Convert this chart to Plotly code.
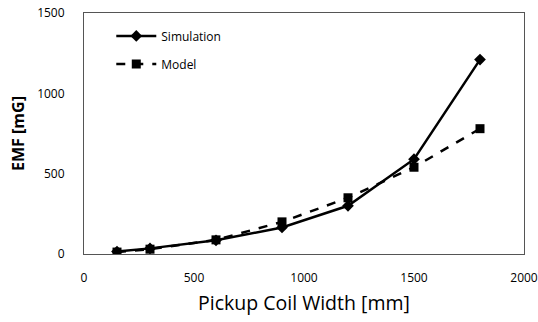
import plotly.graph_objects as go

width_mm = [150, 300, 600, 900, 1200, 1500, 1800]
simulation = [15, 35, 85, 165, 300, 590, 1210]
model = [12, 30, 88, 200, 350, 540, 780]

fig = go.Figure()
fig.add_trace(go.Scatter(x=width_mm, y=simulation, name="Simulation", mode="lines+markers",
                         legendgroup="a",
                         line=dict(color="black", width=2.5),
                         marker=dict(symbol="diamond", size=9, color="black")))
fig.add_trace(go.Scatter(x=width_mm, y=model, name="Model", mode="lines+markers",
                         legendgroup="b",
                         line=dict(color="black", width=2.5, dash="dash"),
                         marker=dict(symbol="square", size=9, color="black")))

fig.update_layout(
    width=538, height=322,
    margin=dict(l=84, r=14, t=13, b=68),
    paper_bgcolor="white", plot_bgcolor="white",
    font=dict(family="Open Sans, Liberation Sans, sans-serif", color="black"),
    showlegend=True,
    legend=dict(x=0.062, y=0.965, xanchor="left", yanchor="top", bgcolor="rgba(0,0,0,0)",
                font=dict(size=12), itemwidth=40, tracegroupgap=9),
    xaxis=dict(range=[0, 2000], tickvals=[0, 500, 1000, 1500, 2000], showgrid=False, zeroline=False,
               showline=True, linecolor="#555", linewidth=1, mirror=True, ticks="",
               tickfont=dict(size=12), automargin=False, ticklabelstandoff=13,
               ticklabeloverflow="allow",
               title=dict(text="Pickup Coil Width [mm]", font=dict(size=19.5), standoff=10)),
    yaxis=dict(range=[0, 1500], tickvals=[0, 500, 1000, 1500], showgrid=False, zeroline=False,
               showline=True, linecolor="#555", linewidth=1, mirror=True, ticks="",
               tickfont=dict(size=12), automargin=False, ticklabelstandoff=16,
               ticklabeloverflow="allow",
               title=dict(text="<b>EMF [mG]</b>", font=dict(size=16), standoff=8)),
)
fig.write_html("out.html", config={"displayModeBar": False},
               post_script="document.body.style.margin='0';document.body.style.padding='0';")
